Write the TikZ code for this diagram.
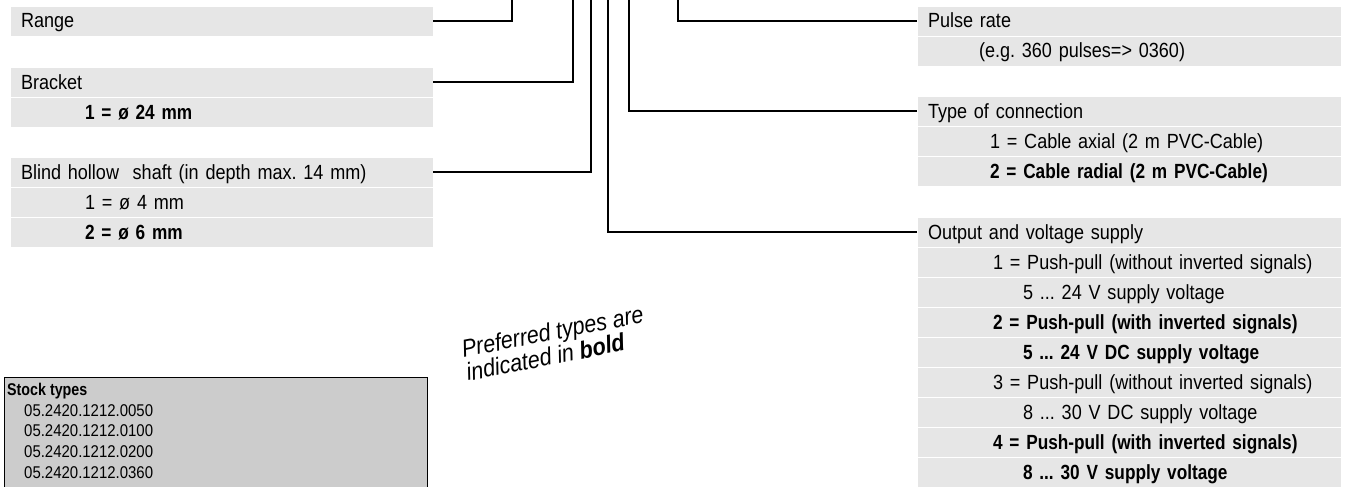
\documentclass[tikz,border=0pt]{standalone}
\usepackage{fontspec}
\setmainfont{Liberation Sans}[FakeStretch=0.88, BoldFeatures={FakeStretch=0.84}]
\usetikzlibrary{positioning}
\definecolor{rowgray}{HTML}{E6E6E6}
\definecolor{stockgray}{HTML}{CCCCCC}
\tikzset{
  row/.style={fill=rowgray, draw=white, line width=0.8pt, outer sep=0pt, inner sep=0pt,
    anchor=north west, minimum height=30pt, text width=#1, align=left,
    text height=15pt, text depth=1pt, font=\fontsize{20.5}{24}\selectfont},
  lrow/.style={row=423pt},
  rrow/.style={row=424pt},
  conn/.style={line width=2.2pt},
  stockbox/.style={draw=black, line width=1.4pt, fill=stockgray, anchor=north west,
    minimum width=423pt, minimum height=120pt, inner sep=0pt},
  note/.style={rotate=11, inner sep=0pt, align=left, font=\itshape\fontsize{24.5}{24}\selectfont}
}
\frenchspacing
\begin{document}
\begin{tikzpicture}[x=1pt,y=-1pt]
\useasboundingbox (0,0) rectangle (1347,487);
% left column
\node[lrow] (range) at (10,6) {\hspace*{11pt}Range};
\node[lrow] (bracket) at (10,67) {\hspace*{11pt}Bracket};
\node[lrow,below=0pt of bracket] (bracketa) {\hspace*{75pt}\textbf{1 = ø 24 mm}};
\node[lrow] (blind) at (10,157) {\hspace*{11pt}Blind hollow~ shaft (in depth max. 14 mm)};
\node[lrow,below=0pt of blind] (blinda) {\hspace*{75pt}1 = ø 4 mm};
\node[lrow,below=0pt of blinda] (blindb) {\hspace*{75pt}\textbf{2 = ø 6 mm}};
% right column
\node[rrow] (pulse) at (917,6) {\hspace*{11pt}Pulse rate};
\node[rrow,below=0pt of pulse] (pulsea) {\hspace*{62pt}(e.g. 360 pulses=> 0360)};
\node[rrow] (type) at (917,96) {\hspace*{11pt}Type of connection};
\node[rrow,below=0pt of type] (typea) {\hspace*{73pt}1 = Cable axial (2 m PVC-Cable)};
\node[rrow,below=0pt of typea] (typeb) {\hspace*{73pt}\textbf{2 = Cable radial (2 m PVC-Cable)}};
\node[rrow] (out) at (917,217) {\hspace*{11pt}Output and voltage supply};
\node[rrow,below=0pt of out] (outa) {\hspace*{76pt}1 = Push-pull (without inverted signals)};
\node[rrow,below=0pt of outa] (outb) {\hspace*{106pt}5 ... 24 V supply voltage};
\node[rrow,below=0pt of outb] (outc) {\hspace*{76pt}\textbf{2 = Push-pull (with inverted signals)}};
\node[rrow,below=0pt of outc] (outd) {\hspace*{106pt}\textbf{5 ... 24 V DC supply voltage}};
\node[rrow,below=0pt of outd] (oute) {\hspace*{76pt}3 = Push-pull (without inverted signals)};
\node[rrow,below=0pt of oute] (outf) {\hspace*{106pt}8 ... 30 V DC supply voltage};
\node[rrow,below=0pt of outf] (outg) {\hspace*{76pt}\textbf{4 = Push-pull (with inverted signals)}};
\node[rrow,below=0pt of outg] (outh) {\hspace*{106pt}\textbf{8 ... 30 V supply voltage}};
% connectors up to the type code
\coordinate (rangetop) at (512,0);
\coordinate (brackettop) at (573,0);
\coordinate (blindtop) at (591,0);
\coordinate (outtop) at (608,0);
\coordinate (typetop) at (629,0);
\coordinate (pulsetop) at (678,0);
\draw[conn] (range.east) -| (rangetop);
\draw[conn] (bracket.east) -| (brackettop);
\draw[conn] (blind.east) -| (blindtop);
\draw[conn] (out.west) -| (outtop);
\draw[conn] (type.west) -| (typetop);
\draw[conn] (pulse.west) -| (pulsetop);
% note
\node[note, anchor=base west] (pref) at (468,381) {Preferred types are\\indicated in \textbf{bold}};
% stock types
\node[stockbox] (stock) at (4,377) {};
\node[anchor=north west, inner sep=0pt, align=left, font=\fontsize{17}{20.7}\selectfont] (stocklist) at (7,383)
  {\textbf{Stock types}\\
   \hspace*{17pt}05.2420.1212.0050\\
   \hspace*{17pt}05.2420.1212.0100\\
   \hspace*{17pt}05.2420.1212.0200\\
   \hspace*{17pt}05.2420.1212.0360};
\end{tikzpicture}
\end{document}
